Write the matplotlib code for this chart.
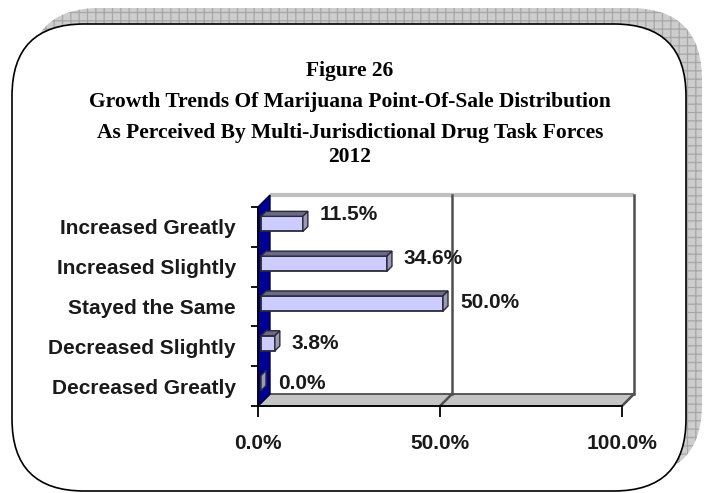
import matplotlib
matplotlib.use("Agg")
import matplotlib.pyplot as plt
from matplotlib.patches import Polygon, FancyBboxPatch
import numpy as np

# ---- data ----
categories = ["Increased Greatly", "Increased Slightly", "Stayed the Same",
              "Decreased Slightly", "Decreased Greatly"]
values = [11.5, 34.6, 50.0, 3.8, 0.0]
value_labels = ["11.5%", "34.6%", "50.0%", "3.8%", "0.0%"]
xticks = [0, 50, 100]
xtick_labels = ["0.0%", "50.0%", "100.0%"]
title_lines = ["Figure 26",
               "Growth Trends Of Marijuana Point-Of-Sale Distribution",
               "As Perceived By Multi-Jurisdictional Drug Task Forces",
               "2012"]

# ---- style ----
W, H = 707, 493
SANS = ["Liberation Sans", "DejaVu Sans"]
SERIF = ["Liberation Serif", "DejaVu Serif"]
title_baselines = [76, 107, 138, 162]   # px from top
label_dy = [12, 8, 4, 3, 3]             # px nudges of value labels
DEPTH = 12          # px depth of the 3-D walls
BAR_D0, BAR_D1 = 3, 8
BAR_H = 0.19

plt.rcParams["hatch.linewidth"] = 0.9

fig = plt.figure(figsize=(W / 100, H / 100), dpi=100)
fig.patch.set_facecolor("white")

# background frame with shadow
bg = fig.add_axes([0, 0, 1, 1])
bg.set_xlim(0, W)
bg.set_ylim(H, 0)
bg.axis("off")
shadow = FancyBboxPatch((28, 8), 674, 468,
                        boxstyle="round,pad=0,rounding_size=72",
                        facecolor="#cdcdcd", edgecolor="#a6a6a6", lw=0,
                        hatch="++")
bg.add_patch(shadow)
box = FancyBboxPatch((12, 24), 674, 467,
                     boxstyle="round,pad=0,rounding_size=72",
                     facecolor="white", edgecolor="black", lw=1.2)
bg.add_patch(box)

for line, yb in zip(title_lines, title_baselines):
    fig.text(350 / W, 1 - yb / H, line, ha="center", va="baseline",
             family=SERIF, fontsize=15.5, fontweight="bold", color="black")

# main plot area (front plane)
FX0, FX1, FY0, FY1 = 258, 622, 207, 406
ax = fig.add_axes([FX0 / W, 1 - FY1 / H, (FX1 - FX0) / W, (FY1 - FY0) / H])
ax.set_xlim(0, 100)
ax.set_ylim(-0.5, 4.5)
ax.patch.set_alpha(0)
ax.set_zorder(2)

n = len(categories)
ypos = n - 1 - np.arange(n)


def sh(x, y, d):
    p = ax.transData.transform((x, y)) + np.array([d, d])
    return tuple(ax.transData.inverted().transform(p))


def poly(pts, **kw):
    p = Polygon(pts, closed=True, clip_on=False, **kw)
    ax.add_patch(p)
    return p


y0, y1 = -0.5, 4.5
# back wall
poly([sh(0, y0, DEPTH), sh(100, y0, DEPTH), sh(100, y1, DEPTH), sh(0, y1, DEPTH)],
     facecolor="white", edgecolor="none", zorder=1)
# floor
poly([(0, y0), (100, y0), sh(100, y0, DEPTH), sh(0, y0, DEPTH)],
     facecolor="#c4c4c4", edgecolor="#404040", lw=1.2, zorder=2)
# back wall edges
xs, ys = zip(sh(0, y1, DEPTH), sh(100, y1, DEPTH))
ax.plot(xs, ys, color="#c0c0c0", lw=3, clip_on=False, zorder=2, solid_capstyle="butt")
for gx in [50, 100]:
    xs, ys = zip(sh(gx, y0, DEPTH), sh(gx, y1, DEPTH))
    ax.plot(xs, ys, color="#505050", lw=1.8, clip_on=False, zorder=3)
    xs, ys = zip((gx, y0), sh(gx, y0, DEPTH))
    ax.plot(xs, ys, color="#505050", lw=1.8, clip_on=False, zorder=3)
# left side wall
poly([(0, y0), (0, y1), sh(0, y1, DEPTH), sh(0, y0, DEPTH)],
     facecolor="#000099", edgecolor="#000033", lw=1, zorder=3)

# bars
for v, yc in zip(values, ypos):
    b, t = yc - BAR_H, yc + BAR_H
    poly([sh(0, b, BAR_D0), sh(v, b, BAR_D0), sh(v, t, BAR_D0), sh(0, t, BAR_D0)],
         facecolor="#ccccff", edgecolor="#2a2a3a", lw=1.3, zorder=5)
    poly([sh(0, t, BAR_D0), sh(v, t, BAR_D0), sh(v, t, BAR_D1), sh(0, t, BAR_D1)],
         facecolor="#6a6a88", edgecolor="#2a2a3a", lw=1.0, zorder=5)
    poly([sh(v, b, BAR_D0), sh(v, b, BAR_D1), sh(v, t, BAR_D1), sh(v, t, BAR_D0)],
         facecolor="#9a9ab4", edgecolor="#2a2a3a", lw=1.0, zorder=5)

for v, yc, lab, dy in zip(values, ypos, value_labels, label_dy):
    ax.annotate(lab, xy=(v, yc), xytext=(20 * 0.72, dy * 0.72),
                textcoords="offset points", ha="left", va="center",
                family=SANS, fontsize=15, fontweight="bold", color="#1a1a1a",
                annotation_clip=False, zorder=6)

# axes
for s in ["top", "right"]:
    ax.spines[s].set_visible(False)
for s in ["left", "bottom"]:
    ax.spines[s].set_color("black")
    ax.spines[s].set_linewidth(1.3)
    ax.spines[s].set_zorder(7)
ax.set_xticks(xticks)
ax.set_xticklabels(xtick_labels, family=SANS, fontsize=15, fontweight="bold",
                   color="#1a1a1a")
ax.tick_params(axis="x", length=8, width=1.3, direction="out", pad=12,
               color="black")
ax.set_yticks(ypos)
ax.set_yticklabels(categories, family=SANS, fontsize=15, fontweight="bold",
                   color="#1a1a1a")
ax.set_yticks(np.arange(-0.5, n, 1.0), minor=True)
ax.tick_params(axis="y", which="major", length=0, pad=16)
ax.tick_params(axis="y", which="minor", length=5, width=1.3, color="black")

fig.savefig("out.png", dpi=100, facecolor="white")
